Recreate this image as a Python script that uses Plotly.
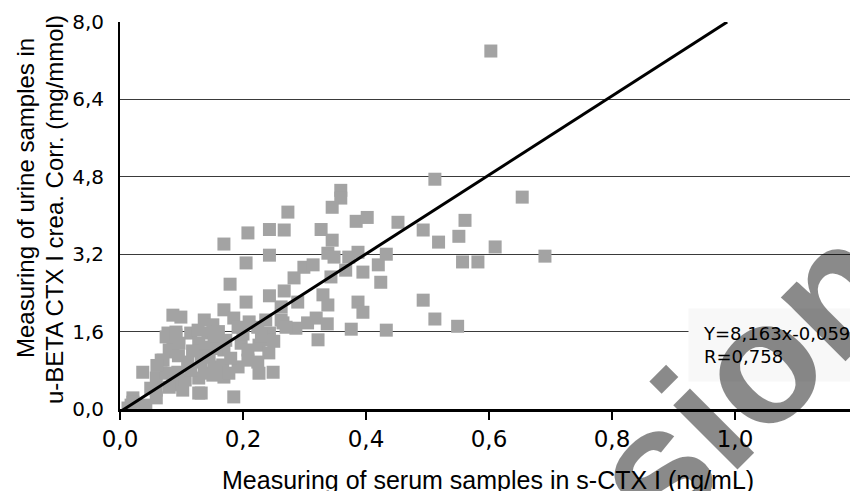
import plotly.graph_objects as go

# ---------------- data ----------------
serum_x = [
    0.603, 0.654, 0.512, 0.561, 0.551, 0.610, 0.557, 0.582, 0.691, 0.549,
    0.359, 0.359, 0.345, 0.273, 0.208, 0.243, 0.267, 0.169, 0.327, 0.345,
    0.384, 0.402, 0.452, 0.493, 0.518, 0.243, 0.205, 0.179, 0.205, 0.243,
    0.267, 0.283, 0.299, 0.314, 0.338, 0.348, 0.372, 0.387, 0.367, 0.395,
    0.343, 0.330, 0.338, 0.289, 0.262, 0.265, 0.286, 0.305, 0.319, 0.337,
    0.322, 0.376, 0.387, 0.395, 0.420, 0.424, 0.433, 0.433, 0.493, 0.512,
    0.262, 0.270,
    0.086, 0.099, 0.169, 0.185, 0.137, 0.151, 0.192, 0.210, 0.224, 0.237,
    0.243, 0.240, 0.078, 0.091, 0.086, 0.086, 0.115, 0.127, 0.143, 0.153,
    0.137, 0.169, 0.197, 0.208, 0.226, 0.242, 0.067, 0.037, 0.059, 0.075,
    0.094, 0.086, 0.099, 0.110, 0.132, 0.137, 0.132, 0.153, 0.169, 0.185,
    0.192, 0.208, 0.224, 0.226, 0.249, 0.021, 0.018, 0.039, 0.059, 0.050,
    0.013, 0.075, 0.091, 0.080, 0.096, 0.128, 0.156, 0.172, 0.135, 0.070,
    0.128, 0.151, 0.167, 0.177, 0.059, 0.080, 0.102, 0.128, 0.021, 0.042,
    0.106, 0.115, 0.145, 0.180, 0.230, 0.250, 0.200, 0.160, 0.118, 0.095,
    0.060,
]
urine_y = [
    7.40, 4.38, 4.75, 3.90, 3.57, 3.35, 3.04, 3.04, 3.16, 1.71,
    4.52, 4.36, 4.17, 4.07, 3.64, 3.71, 3.70, 3.41, 3.71, 3.49,
    3.88, 3.96, 3.86, 3.70, 3.45, 3.18, 3.02, 2.58, 2.21, 2.34,
    2.44, 2.71, 2.93, 2.98, 3.22, 3.14, 3.14, 3.24, 2.87, 2.83,
    2.73, 2.36, 2.15, 2.21, 2.11, 1.78, 1.67, 1.78, 1.88, 1.76,
    1.43, 1.65, 2.21, 2.00, 2.98, 2.62, 3.20, 1.63, 2.25, 1.86,
    1.84, 1.69,
    1.94, 1.90, 2.05, 1.88, 1.84, 1.74, 1.69, 1.80, 1.69, 1.84,
    1.57, 1.43, 1.57, 1.59, 1.36, 1.18, 1.57, 1.63, 1.57, 1.36,
    1.28, 1.22, 1.36, 1.22, 1.32, 1.16, 1.01, 0.76, 0.64, 0.74,
    0.76, 0.50, 0.54, 0.97, 0.97, 0.74, 0.33, 0.87, 0.66, 0.25,
    0.87, 1.01, 0.97, 0.74, 0.76, 0.23, 0.08, 0.04, 0.23, 0.43,
    0.02, 1.49, 1.53, 1.22, 1.36, 1.36, 1.25, 1.42, 1.07, 1.01,
    0.64, 0.70, 0.91, 0.74, 0.39, 0.45, 0.39, 0.33, 0.14, 0.08,
    0.60, 0.80, 1.10, 1.05, 1.50, 1.40, 1.55, 1.60, 1.20, 1.10,
    0.90,
]

slope = 8.163
intercept = -0.059
r_value = 0.758

x_tickvals = [0.0, 0.2, 0.4, 0.6, 0.8, 1.0]
x_ticktext = ["0,0", "0,2", "0,4", "0,6", "0,8", "1,0"]
y_tickvals = [0.0, 1.6, 3.2, 4.8, 6.4, 8.0]
y_ticktext = ["0,0", "1,6", "3,2", "4,8", "6,4", "8,0"]

x_title = "Measuring of serum samples in s-CTX I (ng/mL)"
y_title_1 = "Measuring of urine samples in"
y_title_2 = "u-BETA CTX I crea. Corr. (mg/mmol)"
equation_text = "Y=8,163x-0,059<br>R=0,758"
watermark_text = "sion"

# ---------------- layout geometry ----------------
W, H = 850, 491
ML, MR, MT, MB = 120, 0, 22, 82
PW, PH = W - ML - MR, H - MT - MB
X_MAX = 1.187
Y_MAX = 8.0


def px(xp):
    return (xp - ML) / PW


def py(yp):
    return (H - MB - yp) / PH


FONT = "Liberation Sans, Arial, sans-serif"
WIDE = "DejaVu Sans, Verdana, sans-serif"

# regression line end where it reaches the top of the axis
x_end = (Y_MAX - intercept) / slope
reg_x = [0.0, x_end]
reg_y = [slope * v + intercept for v in reg_x]

fig = go.Figure()
fig.add_trace(go.Scatter(
    x=serum_x, y=urine_y, mode="markers",
    marker=dict(symbol="square", size=13, color="#a3a3a3", line=dict(width=0)),
    showlegend=False, hoverinfo="skip",
))
fig.add_trace(go.Scatter(
    x=reg_x, y=reg_y, mode="lines",
    line=dict(color="black", width=3),
    showlegend=False, hoverinfo="skip",
))

annotations = [
    dict(text=equation_text, xref="paper", yref="paper",
         x=px(688), y=py(308), xanchor="left", yanchor="top",
         showarrow=False, align="left", bgcolor="#f8f8f8",
         borderpad=14, font=dict(family=WIDE, size=18, color="black")),
    dict(text=x_title, xref="paper", yref="paper",
         x=px(488), y=py(480), xanchor="center", yanchor="middle",
         showarrow=False, font=dict(family=FONT, size=25, color="black")),
    dict(text=y_title_1, xref="paper", yref="paper",
         x=px(26), y=py(198), xanchor="center", yanchor="middle",
         textangle=-90, showarrow=False,
         font=dict(family=FONT, size=24, color="black")),
    dict(text=y_title_2, xref="paper", yref="paper",
         x=px(54), y=py(210), xanchor="center", yanchor="middle",
         textangle=-90, showarrow=False,
         font=dict(family=FONT, size=24, color="black")),
    dict(text="<b>" + watermark_text + "</b>", xref="paper", yref="paper",
         x=px(744), y=py(378), xanchor="center", yanchor="middle",
         textangle=-45, showarrow=False,
         font=dict(family=FONT, size=172, color="rgba(0,0,0,0.46)")),
]

fig.update_layout(
    width=W, height=H,
    margin=dict(l=ML, r=MR, t=MT, b=MB, pad=0),
    paper_bgcolor="white", plot_bgcolor="white",
    font=dict(family=FONT, color="black"),
    annotations=annotations,
    xaxis=dict(
        range=[0, X_MAX], tickvals=x_tickvals, ticktext=x_ticktext,
        showgrid=False, zeroline=False,
        showline=True, linecolor="black", linewidth=2.5,
        ticks="outside", ticklen=8, tickwidth=1.5, tickcolor="black",
        tickfont=dict(family=WIDE, size=23, color="black"),
    ),
    yaxis=dict(
        range=[0, Y_MAX], tickvals=y_tickvals, ticktext=y_ticktext,
        showgrid=True, gridcolor="#3a3a3a", gridwidth=1, zeroline=False,
        showline=True, linecolor="black", linewidth=2,
        ticks="", ticklabelstandoff=10,
        tickfont=dict(family=WIDE, size=20, color="black"),
    ),
)

fig.write_html(
    "out.html",
    config={"displayModeBar": False},
    post_script="document.body.style.margin='0';document.body.style.overflow='hidden';",
)
